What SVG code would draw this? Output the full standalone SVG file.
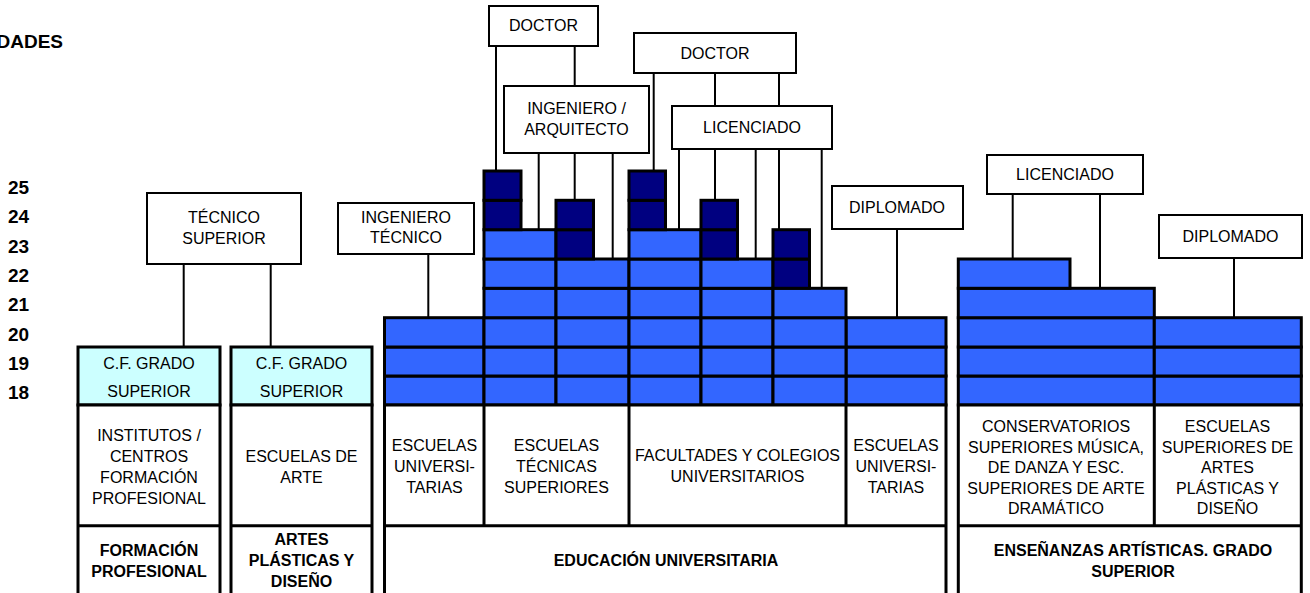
<svg xmlns="http://www.w3.org/2000/svg" width="1310" height="593" viewBox="0 0 1310 593">
<style>
text{font-family:"Liberation Sans",Arial,sans-serif;font-size:16px;fill:#000}
.c{text-anchor:middle}
.b{font-weight:bold}
.num{font-weight:bold;font-size:19px}
.box{fill:#fff;stroke:#000;stroke-width:2}
.lb{fill:#36f;stroke:#000;stroke-width:3}
.nv{fill:#000080;stroke:#000;stroke-width:3}
.cy{fill:#cff;stroke:#000;stroke-width:3}
.tb{fill:#fff;stroke:#000;stroke-width:3}
.ln{stroke:#000;stroke-width:3;fill:none}
#connectors line{stroke:#000;stroke-width:2}
</style>
<rect width="1310" height="593" fill="#fff"/>

<g id="axis">
<text class="num" x="-3.5" y="48">DADES</text>
<text class="num" x="8" y="194">25</text>
<text class="num" x="8" y="223.3">24</text>
<text class="num" x="8" y="252.7">23</text>
<text class="num" x="8" y="282">22</text>
<text class="num" x="8" y="311">21</text>
<text class="num" x="8" y="340.5">20</text>
<text class="num" x="8" y="370">19</text>
<text class="num" x="8" y="399">18</text>
</g>

<g id="connectors">
<line x1="183.7" y1="264" x2="183.7" y2="347"/>
<line x1="270.7" y1="264" x2="270.7" y2="347"/>
<line x1="428.3" y1="254" x2="428.3" y2="318"/>
<line x1="496" y1="46" x2="496" y2="171"/>
<line x1="574.7" y1="46" x2="574.7" y2="86"/>
<line x1="538.7" y1="153" x2="538.7" y2="230"/>
<line x1="574.7" y1="153" x2="574.7" y2="200"/>
<line x1="612.7" y1="153" x2="612.7" y2="259"/>
<line x1="653.7" y1="73" x2="653.7" y2="171"/>
<line x1="715" y1="73" x2="715" y2="106"/>
<line x1="779" y1="73" x2="779" y2="106"/>
<line x1="679" y1="149" x2="679" y2="230"/>
<line x1="715" y1="149" x2="715" y2="200"/>
<line x1="755.7" y1="149" x2="755.7" y2="259"/>
<line x1="779" y1="149" x2="779" y2="230"/>
<line x1="821.7" y1="149" x2="821.7" y2="288"/>
<line x1="897" y1="229" x2="897" y2="318"/>
<line x1="1012.7" y1="194" x2="1012.7" y2="259"/>
<line x1="1100" y1="194" x2="1100" y2="288"/>
<line x1="1234" y1="258" x2="1234" y2="318"/>
</g>

<g id="tecnico-superior">
<rect class="box" x="147" y="193" width="154" height="71"/>
<text class="c" x="224" y="223">TÉCNICO</text>
<text class="c" x="224" y="244">SUPERIOR</text>
</g>
<g id="ingeniero-tecnico">
<rect class="box" x="338" y="203" width="136" height="51"/>
<text class="c" x="406" y="223">INGENIERO</text>
<text class="c" x="406" y="243">TÉCNICO</text>
</g>
<g id="doctor-1">
<rect class="box" x="489" y="6" width="109" height="40"/>
<text class="c" x="543.5" y="31">DOCTOR</text>
</g>
<g id="ingeniero-arquitecto">
<rect class="box" x="504" y="86" width="145" height="67"/>
<text class="c" x="576.5" y="114">INGENIERO /</text>
<text class="c" x="576.5" y="135">ARQUITECTO</text>
</g>
<g id="doctor-2">
<rect class="box" x="634" y="33" width="162" height="40"/>
<text class="c" x="715" y="59">DOCTOR</text>
</g>
<g id="licenciado-1">
<rect class="box" x="672" y="106" width="160" height="43"/>
<text class="c" x="752" y="133">LICENCIADO</text>
</g>
<g id="diplomado-1">
<rect class="box" x="832" y="186" width="131" height="43"/>
<text class="c" x="897" y="212.5">DIPLOMADO</text>
</g>
<g id="licenciado-2">
<rect class="box" x="987" y="155" width="156" height="39"/>
<text class="c" x="1065" y="179.5">LICENCIADO</text>
</g>
<g id="diplomado-2">
<rect class="box" x="1159" y="215" width="143" height="43"/>
<text class="c" x="1230.5" y="241.5">DIPLOMADO</text>
</g>

<g id="cf-grado-fp">
<rect class="cy" x="78" y="347" width="142" height="58"/>
<text class="c" x="149" y="368.5">C.F. GRADO</text>
<text class="c" x="149" y="397">SUPERIOR</text>
</g>
<g id="cf-grado-arte">
<rect class="cy" x="231" y="347" width="141" height="58"/>
<text class="c" x="301.5" y="368.5">C.F. GRADO</text>
<text class="c" x="301.5" y="397">SUPERIOR</text>
</g>

<g id="university-blocks">
<rect class="lb" x="384.5" y="376" width="99.5" height="29"/>
<rect class="lb" x="384.5" y="347" width="99.5" height="29"/>
<rect class="lb" x="384.5" y="317.7" width="99.5" height="29.3"/>
<rect class="lb" x="846" y="376" width="100" height="29"/>
<rect class="lb" x="846" y="347" width="100" height="29"/>
<rect class="lb" x="846" y="317.7" width="100" height="29.3"/>
<g id="col-a">
<rect class="lb" x="484" y="376" width="72" height="29"/>
<rect class="lb" x="484" y="347" width="72" height="29"/>
<rect class="lb" x="484" y="317.7" width="72" height="29.3"/>
<rect class="lb" x="484" y="288.3" width="72" height="29.4"/>
<rect class="lb" x="484" y="259" width="72" height="29.3"/>
<rect class="lb" x="484" y="229.7" width="72" height="29.3"/>
<rect class="nv" x="484" y="200.3" width="37" height="29.4"/>
<rect class="nv" x="484" y="171" width="37" height="29.3"/>
</g>
<g id="col-b">
<rect class="lb" x="556" y="376" width="73" height="29"/>
<rect class="lb" x="556" y="347" width="73" height="29"/>
<rect class="lb" x="556" y="317.7" width="73" height="29.3"/>
<rect class="lb" x="556" y="288.3" width="73" height="29.4"/>
<rect class="lb" x="556" y="259" width="73" height="29.3"/>
<rect class="nv" x="556" y="229.7" width="37.5" height="29.3"/>
<rect class="nv" x="556" y="200.3" width="37.5" height="29.4"/>
</g>
<g id="col-c">
<rect class="lb" x="629" y="376" width="72" height="29"/>
<rect class="lb" x="629" y="347" width="72" height="29"/>
<rect class="lb" x="629" y="317.7" width="72" height="29.3"/>
<rect class="lb" x="629" y="288.3" width="72" height="29.4"/>
<rect class="lb" x="629" y="259" width="72" height="29.3"/>
<rect class="lb" x="629" y="229.7" width="72" height="29.3"/>
<rect class="nv" x="629" y="200.3" width="36.5" height="29.4"/>
<rect class="nv" x="629" y="171" width="36.5" height="29.3"/>
</g>
<g id="col-d">
<rect class="lb" x="701" y="376" width="72" height="29"/>
<rect class="lb" x="701" y="347" width="72" height="29"/>
<rect class="lb" x="701" y="317.7" width="72" height="29.3"/>
<rect class="lb" x="701" y="288.3" width="72" height="29.4"/>
<rect class="lb" x="701" y="259" width="72" height="29.3"/>
<rect class="nv" x="701" y="229.7" width="36.5" height="29.3"/>
<rect class="nv" x="701" y="200.3" width="36.5" height="29.4"/>
</g>
<g id="col-e">
<rect class="lb" x="773" y="376" width="73" height="29"/>
<rect class="lb" x="773" y="347" width="73" height="29"/>
<rect class="lb" x="773" y="317.7" width="73" height="29.3"/>
<rect class="lb" x="773" y="288.3" width="73" height="29.4"/>
<rect class="nv" x="773" y="259" width="36.5" height="29.3"/>
<rect class="nv" x="773" y="229.7" width="36.5" height="29.3"/>
</g>
</g>

<g id="artistic-blocks">
<rect class="lb" x="958.3" y="376" width="196" height="29"/>
<rect class="lb" x="958.3" y="347" width="196" height="29"/>
<rect class="lb" x="958.3" y="317.7" width="196" height="29.3"/>
<rect class="lb" x="958.3" y="288.3" width="196" height="29.4"/>
<rect class="lb" x="958.3" y="259" width="111.7" height="29.3"/>
<rect class="lb" x="1154.3" y="376" width="147" height="29"/>
<rect class="lb" x="1154.3" y="347" width="147" height="29"/>
<rect class="lb" x="1154.3" y="317.7" width="147" height="29.3"/>
</g>

<g id="table-fp">
<rect class="tb" x="78" y="405" width="142" height="200"/>
<line class="ln" x1="78" y1="525.7" x2="220" y2="525.7"/>
<text class="c" x="149" y="441">INSTITUTOS /</text>
<text class="c" x="149" y="462">CENTROS</text>
<text class="c" x="149" y="483">FORMACIÓN</text>
<text class="c" x="149" y="504">PROFESIONAL</text>
<text class="c b" x="149" y="556">FORMACIÓN</text>
<text class="c b" x="149" y="577">PROFESIONAL</text>
</g>
<g id="table-arte">
<rect class="tb" x="231" y="405" width="141" height="200"/>
<line class="ln" x1="231" y1="525.7" x2="372" y2="525.7"/>
<text class="c" x="301.5" y="462">ESCUELAS DE</text>
<text class="c" x="301.5" y="483">ARTE</text>
<text class="c b" x="301.5" y="545">ARTES</text>
<text class="c b" x="301.5" y="566">PLÁSTICAS Y</text>
<text class="c b" x="301.5" y="587">DISEÑO</text>
</g>
<g id="table-universidad">
<rect class="tb" x="384.5" y="405" width="561.5" height="200"/>
<line class="ln" x1="384.5" y1="525.7" x2="946" y2="525.7"/>
<line class="ln" x1="484" y1="405" x2="484" y2="525.7"/>
<line class="ln" x1="629" y1="405" x2="629" y2="525.7"/>
<line class="ln" x1="846" y1="405" x2="846" y2="525.7"/>
<text class="c" x="434.5" y="451">ESCUELAS</text>
<text class="c" x="434.5" y="472">UNIVERSI-</text>
<text class="c" x="434.5" y="493">TARIAS</text>
<text class="c" x="556.5" y="451">ESCUELAS</text>
<text class="c" x="556.5" y="472">TÉCNICAS</text>
<text class="c" x="556.5" y="493">SUPERIORES</text>
<text class="c" x="737.5" y="461">FACULTADES Y COLEGIOS</text>
<text class="c" x="737.5" y="482">UNIVERSITARIOS</text>
<text class="c" x="896" y="451">ESCUELAS</text>
<text class="c" x="896" y="472">UNIVERSI-</text>
<text class="c" x="896" y="493">TARIAS</text>
<text class="c b" x="666" y="566">EDUCACIÓN UNIVERSITARIA</text>
</g>
<g id="table-artisticas">
<rect class="tb" x="958.3" y="405" width="343" height="200"/>
<line class="ln" x1="958.3" y1="525.7" x2="1301.3" y2="525.7"/>
<line class="ln" x1="1154.3" y1="405" x2="1154.3" y2="525.7"/>
<text class="c" x="1056" y="432">CONSERVATORIOS</text>
<text class="c" x="1056" y="452.5">SUPERIORES MÚSICA,</text>
<text class="c" x="1056" y="473">DE DANZA Y ESC.</text>
<text class="c" x="1056" y="493.5">SUPERIORES DE ARTE</text>
<text class="c" x="1056" y="514">DRAMÁTICO</text>
<text class="c" x="1227.5" y="432">ESCUELAS</text>
<text class="c" x="1227.5" y="452.5">SUPERIORES DE</text>
<text class="c" x="1227.5" y="473">ARTES</text>
<text class="c" x="1227.5" y="493.5">PLÁSTICAS Y</text>
<text class="c" x="1227.5" y="514">DISEÑO</text>
<text class="c b" x="1133" y="556">ENSEÑANZAS ARTÍSTICAS. GRADO</text>
<text class="c b" x="1133" y="577">SUPERIOR</text>
</g>
</svg>
